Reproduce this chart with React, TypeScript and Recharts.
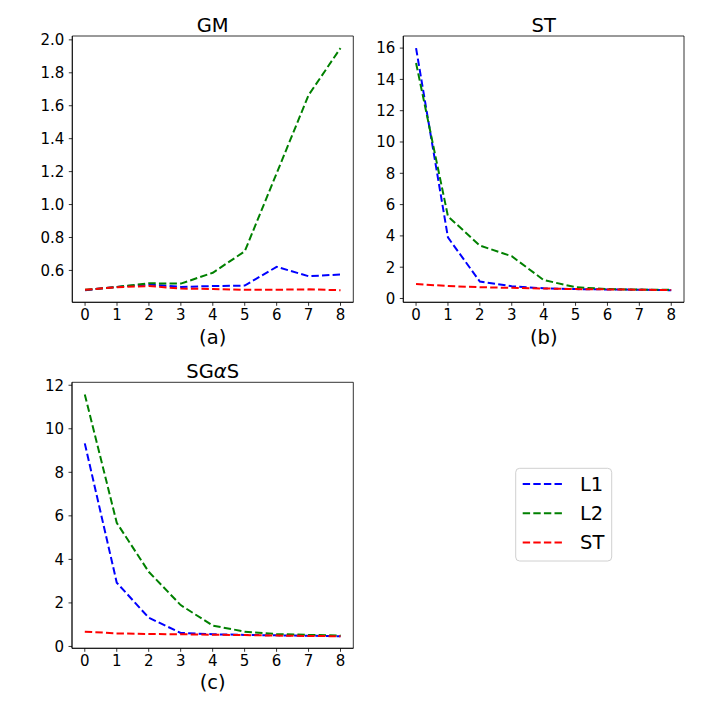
import React from 'react';
import { LineChart, Line, XAxis, YAxis, ReferenceArea } from 'recharts';

const X = [0, 1, 2, 3, 4, 5, 6, 7, 8];

const GM_L1 = [0.48, 0.5, 0.515, 0.5, 0.505, 0.508, 0.622, 0.565, 0.575];
const GM_L2 = [0.482, 0.5, 0.522, 0.52, 0.586, 0.716, 1.19, 1.665, 1.95];
const GM_ST = [0.483, 0.498, 0.505, 0.49, 0.487, 0.482, 0.483, 0.485, 0.48];

const ST_L1 = [16.0, 3.9, 1.08, 0.78, 0.65, 0.6, 0.58, 0.56, 0.53];
const ST_L2 = [15.05, 5.25, 3.38, 2.7, 1.18, 0.72, 0.6, 0.57, 0.55];
const ST_ST = [0.92, 0.8, 0.72, 0.68, 0.64, 0.6, 0.58, 0.56, 0.54];

const SG_L1 = [9.33, 2.93, 1.32, 0.62, 0.56, 0.53, 0.51, 0.49, 0.47];
const SG_L2 = [11.58, 5.68, 3.43, 1.9, 0.96, 0.68, 0.57, 0.53, 0.5];
const SG_ST = [0.68, 0.6, 0.57, 0.56, 0.54, 0.52, 0.5, 0.48, 0.47];

const GM_TICKS = [0.6, 0.8, 1.0, 1.2, 1.4, 1.6, 1.8, 2.0];
const ST_TICKS = [0, 2, 4, 6, 8, 10, 12, 14, 16];
const SG_TICKS = [0, 2, 4, 6, 8, 10, 12];

const SERIES = [
  { key: 'L1', color: '#0000ff' },
  { key: 'L2', color: '#008000' },
  { key: 'ST', color: '#ff0000' },
];

const FONT = 'DejaVu Sans, sans-serif';
const DASH = '7.4 3.2';
const LW = 2;

function rows(l1: number[], l2: number[], st: number[]) {
  return X.map((x, i) => ({ x, L1: l1[i], L2: l2[i], ST: st[i] }));
}

function pad(vals: number[]): [number, number] {
  const mn = Math.min(...vals);
  const mx = Math.max(...vals);
  const r = mx - mn;
  return [mn - 0.05 * r, mx + 0.05 * r];
}

type PanelProps = {
  data: any[];
  ticks: number[];
  domain: [number, number];
  fmt: (v: number) => string;
  left: number;
  top: number;
  yWidth: number;
  margin: { top: number; right: number; bottom: number; left: number };
};

function Panel({ data, ticks, domain, fmt, left, top, yWidth, margin }: PanelProps) {
  const tickStyle = { fontSize: 15, fill: '#000', fontFamily: FONT };
  return (
    <div style={{ position: 'absolute', left, top }}>
      <LineChart width={360} height={360} data={data} margin={margin}>
        <XAxis
          dataKey="x"
          type="number"
          domain={[-0.4, 8.4]}
          ticks={X}
          allowDataOverflow
          height={30}
          tick={tickStyle}
          tickSize={3.5}
          tickMargin={3.5}
          axisLine={{ stroke: '#000', strokeWidth: 0.8 }}
          tickLine={{ stroke: '#000', strokeWidth: 0.8 }}
          interval={0}
        />
        <YAxis
          type="number"
          domain={domain}
          ticks={ticks}
          allowDataOverflow
          width={yWidth}
          tick={tickStyle}
          tickSize={3.5}
          tickMargin={4.5}
          tickFormatter={fmt}
          axisLine={{ stroke: '#000', strokeWidth: 0.8 }}
          tickLine={{ stroke: '#000', strokeWidth: 0.8 }}
          interval={0}
        />
        {SERIES.map((s) => (
          <Line
            key={s.key}
            dataKey={s.key}
            type="linear"
            stroke={s.color}
            strokeWidth={LW}
            strokeDasharray={DASH}
            dot={false}
            activeDot={false}
            isAnimationActive={false}
          />
        ))}
        <ReferenceArea
          x1={-0.4}
          x2={8.4}
          y1={domain[0]}
          y2={domain[1]}
          fill="none"
          stroke="#000"
          strokeWidth={0.8}
          ifOverflow="visible"
        />
      </LineChart>
    </div>
  );
}

export default function App() {
  const gmData = rows(GM_L1, GM_L2, GM_ST);
  const stData = rows(ST_L1, ST_L2, ST_ST);
  const sgData = rows(SG_L1, SG_L2, SG_ST);
  const gmDom = pad([...GM_L1, ...GM_L2, ...GM_ST]);
  const stDom = pad([...ST_L1, ...ST_L2, ...ST_ST]);
  const sgDom = pad([...SG_L1, ...SG_L2, ...SG_ST]);
  const tf = 19.5;
  return (
    <div style={{ position: 'absolute', left: 0, top: 0, width: 720, height: 720, background: '#fff', fontFamily: FONT }}>
      <Panel
        data={gmData}
        ticks={GM_TICKS}
        domain={gmDom}
        fmt={(v) => v.toFixed(1)}
        left={0}
        top={0}
        yWidth={72.3}
        margin={{ top: 36, right: 6.7, bottom: 27.7, left: 0 }}
      />
      <Panel
        data={stData}
        ticks={ST_TICKS}
        domain={stDom}
        fmt={(v) => String(v)}
        left={360}
        top={0}
        yWidth={43.3}
        margin={{ top: 36, right: 36, bottom: 27.7, left: 0 }}
      />
      <Panel
        data={sgData}
        ticks={SG_TICKS}
        domain={sgDom}
        fmt={(v) => String(v)}
        left={0}
        top={360}
        yWidth={72}
        margin={{ top: 22.3, right: 6.7, bottom: 41.7, left: 0 }}
      />
      <svg
        width={720}
        height={720}
        style={{ position: 'absolute', left: 0, top: 0, pointerEvents: 'none' }}
        fontFamily={FONT}
      >
        <text x={212.7} y={31.7} fontSize={tf} textAnchor="middle" fill="#000">GM</text>
        <text x={543.7} y={31.7} fontSize={tf} textAnchor="middle" fill="#000">ST</text>
        <text x={212.7} y={377.5} fontSize={tf} textAnchor="middle" fill="#000">
          SG<tspan fontStyle="italic">α</tspan>S
        </text>
        <text x={212.7} y={343.6} fontSize={tf} textAnchor="middle" fill="#000">(a)</text>
        <text x={543.7} y={343.6} fontSize={tf} textAnchor="middle" fill="#000">(b)</text>
        <text x={212.7} y={689.3} fontSize={tf} textAnchor="middle" fill="#000">(c)</text>
        <rect x={515.7} y={468.3} width={96} height={92.7} rx={4} ry={4} fill="#fff" fillOpacity={0.8} stroke="#d0d0d0" strokeWidth={1} />
        {SERIES.map((s, i) => (
          <g key={s.key}>
            <line x1={522.7} x2={562.7} y1={484 + i * 29.2} y2={484 + i * 29.2} stroke={s.color} strokeWidth={LW} strokeDasharray={DASH} />
            <text x={580} y={491 + i * 29} fontSize={tf} fill="#000">{s.key}</text>
          </g>
        ))}
      </svg>
    </div>
  );
}
